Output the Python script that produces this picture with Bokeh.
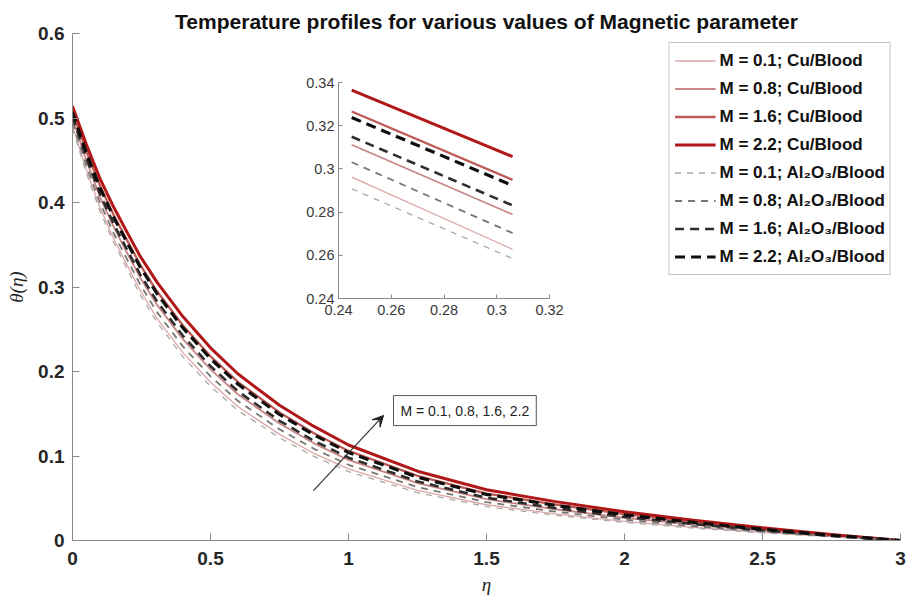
from bokeh.plotting import figure
from bokeh.models import (Range1d, FixedTicker, CustomJSTickFormatter, Legend, LegendItem,
                          Label, Arrow, VeeHead)
from bokeh.layouts import column
from bokeh.embed import file_html
from bokeh.resources import INLINE

# ---------------- data ----------------
eta = [0, 0.05, 0.1, 0.15, 0.2, 0.245, 0.306, 0.4, 0.5, 0.6, 0.75, 0.875, 1.0, 1.25, 1.5, 1.75, 2.0, 2.25, 2.5, 2.75, 3.0]

cu_m01 = [0.4907, 0.4390, 0.3935, 0.3565, 0.3246, 0.2962, 0.2628, 0.2223, 0.1872, 0.1582, 0.1256, 0.1030, 0.0847, 0.0593, 0.0423, 0.0316, 0.0227, 0.0156, 0.0096, 0.0045, 0.0]
cu_m08 = [0.4994, 0.4500, 0.4064, 0.3705, 0.3391, 0.3112, 0.2789, 0.2383, 0.2025, 0.1728, 0.1385, 0.1150, 0.0953, 0.0678, 0.0489, 0.0370, 0.0269, 0.0187, 0.0116, 0.0054, 0.0]
cu_m16 = [0.5080, 0.4610, 0.4195, 0.3845, 0.3540, 0.3266, 0.2949, 0.2545, 0.2180, 0.1875, 0.1516, 0.1270, 0.1060, 0.0764, 0.0556, 0.0425, 0.0312, 0.0219, 0.0137, 0.0064, 0.0]
cu_m22 = [0.5140, 0.4690, 0.4280, 0.3940, 0.3635, 0.3365, 0.3057, 0.2650, 0.2280, 0.1970, 0.1600, 0.1350, 0.1130, 0.0820, 0.0600, 0.0460, 0.0340, 0.0240, 0.0150, 0.0070, 0.0]

al_m01 = [0.4880, 0.4350, 0.3895, 0.3520, 0.3200, 0.2908, 0.2585, 0.2173, 0.1824, 0.1537, 0.1216, 0.0995, 0.0814, 0.0566, 0.0402, 0.0299, 0.0214, 0.0146, 0.0090, 0.0042, 0.0]
al_m08 = [0.4948, 0.4440, 0.3995, 0.3630, 0.3313, 0.3031, 0.2703, 0.2297, 0.1943, 0.1650, 0.1316, 0.1085, 0.0896, 0.0632, 0.0453, 0.0341, 0.0247, 0.0170, 0.0106, 0.0049, 0.0]
al_m16 = [0.5016, 0.4530, 0.4097, 0.3740, 0.3428, 0.3149, 0.2831, 0.2423, 0.2063, 0.1764, 0.1417, 0.1180, 0.0980, 0.0699, 0.0506, 0.0383, 0.0280, 0.0195, 0.0121, 0.0057, 0.0]
al_m22 = [0.5067, 0.4590, 0.4172, 0.3820, 0.3513, 0.3238, 0.2923, 0.2516, 0.2152, 0.1849, 0.1492, 0.1250, 0.1042, 0.0749, 0.0545, 0.0415, 0.0305, 0.0214, 0.0133, 0.0062, 0.0]

labels = ["M = 0.1; Cu/Blood", "M = 0.8; Cu/Blood", "M = 1.6; Cu/Blood", "M = 2.2; Cu/Blood",
          "M = 0.1; Al\u2082O\u2083/Blood", "M = 0.8; Al\u2082O\u2083/Blood",
          "M = 1.6; Al\u2082O\u2083/Blood", "M = 2.2; Al\u2082O\u2083/Blood"]
series = [cu_m01, cu_m08, cu_m16, cu_m22, al_m01, al_m08, al_m16, al_m22]

main_xticks = [0, 0.5, 1, 1.5, 2, 2.5, 3]
main_yticks = [0, 0.1, 0.2, 0.3, 0.4, 0.5, 0.6]
inset_xticks = [0.24, 0.26, 0.28, 0.3, 0.32]
inset_yticks = [0.24, 0.26, 0.28, 0.3, 0.32, 0.34]
annotation_text = "M = 0.1, 0.8, 1.6, 2.2"

# ---------------- styles ----------------
colors = ["#dba7a7", "#c98585", "#bd5a56", "#b01818", "#a9a9a9", "#767676", "#2e2e2e", "#0d0d0d"]
widths = [1.3, 1.8, 2.3, 3.0, 1.3, 1.8, 2.6, 3.2]
dashes = ["solid", "solid", "solid", "solid", "6 6", "7 6", "9 6", "10 6"]

fmt = CustomJSTickFormatter(code="return String(Number(tick.toFixed(3)));")
AXIS_GREY = "#8a8a8a"

p = figure(frame_width=828, frame_height=507, output_backend="svg", toolbar_location=None,
           x_range=Range1d(0, 3), y_range=Range1d(0, 0.6),
           min_border_left=72, min_border_right=9, min_border_top=33, min_border_bottom=64)
p.outline_line_color = None
p.xgrid.visible = False
p.ygrid.visible = False
p.background_fill_color = "white"
p.border_fill_color = "white"

p.title.text = "Temperature profiles for various values of Magnetic parameter"
p.title.align = "center"
p.title.text_font = "Liberation Sans"
p.title.text_font_size = "21px"
p.title.text_font_style = "bold"
p.title.text_color = "#111111"
p.title.standoff = 1

for ax, ticks in ((p.xaxis[0], main_xticks), (p.yaxis[0], main_yticks)):
    ax.ticker = FixedTicker(ticks=ticks)
    ax.formatter = fmt
    ax.axis_line_color = AXIS_GREY
    ax.major_tick_line_color = AXIS_GREY
    ax.major_tick_in = 7
    ax.major_tick_out = 0
    ax.minor_tick_line_color = None
    ax.major_label_text_font = "Liberation Sans"
    ax.major_label_text_font_size = "19px"
    ax.major_label_text_font_style = "bold"
    ax.major_label_text_color = "#262626"
    ax.axis_label_text_font = "Liberation Serif"
    ax.axis_label_text_font_style = "italic"
    ax.axis_label_text_font_size = "19px"
    ax.axis_label_text_color = "#222222"

p.xaxis[0].major_label_standoff = 11
p.yaxis[0].major_label_standoff = 8
p.xaxis[0].axis_label = "\u03b7"
p.xaxis[0].axis_label_standoff = 6
p.yaxis[0].axis_label = "\u03b8(\u03b7)"
p.yaxis[0].axis_label_standoff = 8

items = []
for lab, ys, c, w, d in zip(labels, series, colors, widths, dashes):
    r = p.line(eta, ys, line_color=c, line_width=w, line_dash=d, line_join="round")
    items.append(LegendItem(label=lab, renderers=[r]))

legend = Legend(items=items, location="top_right", margin=9, padding=5, spacing=3,
                label_height=25, glyph_height=25, glyph_width=41, label_standoff=4,
                label_text_font="Liberation Sans", label_text_font_size="17px",
                label_text_font_style="bold", label_text_color="#111111",
                border_line_color="#8a8a8a", border_line_width=1,
                background_fill_color="white", background_fill_alpha=1.0)
p.add_layout(legend)

# annotation: arrow and boxed label
p.add_layout(Arrow(end=VeeHead(size=11, fill_color="#222222", line_color="#222222"),
                   x_start=0.873, y_start=0.059, x_end=1.127, y_end=0.148,
                   line_color="#333333", line_width=1.2))
p.add_layout(Label(x=1.163, y=0.136, text=annotation_text, x_units="data", y_units="data",
                   text_font="Liberation Sans", text_font_size="14px", text_color="#222222",
                   padding=7, border_line_color="#555555", border_line_width=1,
                   background_fill_color="white"))

# ---------------- inset ----------------
INSET_BL, INSET_BT = 70, 20
inset = figure(frame_width=211, frame_height=216, output_backend="svg", toolbar_location=None,
               x_range=Range1d(0.24, 0.32), y_range=Range1d(0.24, 0.34),
               min_border_left=INSET_BL, min_border_right=25, min_border_top=INSET_BT,
               min_border_bottom=40,
               styles={"position": "absolute", "left": f"{336 - INSET_BL}px",
                       "top": f"{82 - INSET_BT}px"})
inset.outline_line_color = None
inset.xgrid.visible = False
inset.ygrid.visible = False
inset.background_fill_color = "white"
inset.border_fill_color = None

for ax, ticks in ((inset.xaxis[0], inset_xticks), (inset.yaxis[0], inset_yticks)):
    ax.ticker = FixedTicker(ticks=ticks)
    ax.formatter = fmt
    ax.axis_label = None
    ax.axis_line_color = AXIS_GREY
    ax.major_tick_line_color = AXIS_GREY
    ax.major_tick_in = 4
    ax.major_tick_out = 0
    ax.minor_tick_line_color = None
    ax.major_label_text_font = "Liberation Sans"
    ax.major_label_text_font_size = "14.5px"
    ax.major_label_text_color = "#3a3a3a"
inset.xaxis[0].major_label_standoff = 6
inset.yaxis[0].major_label_standoff = 4

zoom_idx = [i for i, e in enumerate(eta) if 0.24 <= e <= 0.31]
for ys, c, w, d in zip(series, colors, widths, dashes):
    inset.line([eta[i] for i in zoom_idx], [ys[i] for i in zoom_idx],
               line_color=c, line_width=w, line_dash=d, line_join="round")

layout = column(p, inset, styles={"position": "relative"})
open("out.html", "w").write(file_html(layout, INLINE))
